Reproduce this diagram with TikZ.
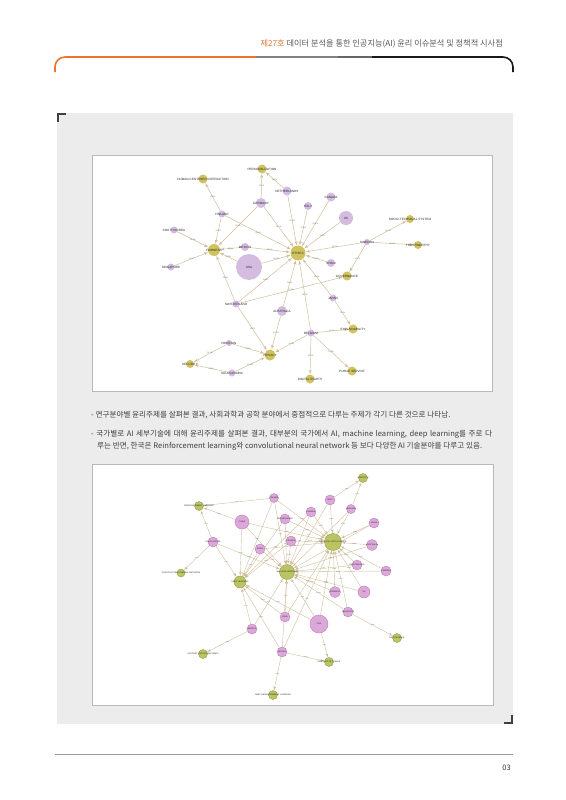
\documentclass[tikz,border=0pt]{standalone}
\usepackage{fontspec}
\setmainfont{Noto Sans CJK KR}
\newfontfamily\labelfont{Liberation Sans}
\usepackage{tikz}
\usetikzlibrary{arrows}
\usetikzlibrary{backgrounds}

\definecolor{pageorange}{RGB}{232,118,48}
\definecolor{panelgray}{RGB}{236,236,236}
\definecolor{framegray}{RGB}{185,185,185}
\definecolor{nodepink}{RGB}{212,188,224}
\definecolor{nodegold}{RGB}{208,194,94}
\definecolor{edgetan}{RGB}{206,186,148}
\definecolor{pinktwo}{RGB}{220,168,218}
\definecolor{pinkrim}{RGB}{186,128,186}
\definecolor{olivetwo}{RGB}{186,196,98}
\definecolor{oliverim}{RGB}{148,158,70}
\definecolor{textgray}{RGB}{62,62,62}

\begin{document}
\begin{tikzpicture}[x=1pt, y=-1pt,
		country/.style={circle, fill=nodepink, inner sep=0pt, minimum size=#1},
		topic/.style={circle, fill=nodegold, inner sep=0pt, minimum size=#1},
		countrytwo/.style={circle, draw=pinkrim, line width=0.4pt, fill=pinktwo, inner sep=0pt, minimum size=#1},
		topictwo/.style={circle, draw=oliverim, line width=0.4pt, fill=olivetwo, inner sep=0pt, minimum size=#1},
		nm/.style={font=\labelfont\fontsize{3.1}{3.1}\selectfont, inner sep=0pt, text=black!85},
		nmtwo/.style={font=\labelfont\fontsize{2.1}{2.1}\selectfont, inner sep=0pt, text=black!85},
		pct/.style={font=\labelfont\fontsize{1.9}{1.9}\selectfont, inner sep=0.3pt, text=black!60},
		pcttwo/.style={font=\labelfont\fontsize{1.5}{1.5}\selectfont, inner sep=0.2pt, text=black!60},
		link/.style={draw=edgetan, line width=0.45pt, -latex'},
		linktwo/.style={draw=edgetan, line width=0.35pt, -latex'}]
	\useasboundingbox (0,0) rectangle (565,800);
	
	% page, panel and frames
	\begin{scope}[on background layer]
		\fill[white] (0,0) rectangle (565,800);
		\fill[panelgray] (57,113) rectangle (513,724);
		\draw[framegray, line width=0.8pt, fill=white] (92,155) rectangle (492,391);
		\draw[framegray, line width=0.8pt, fill=white] (92,464) rectangle (493,705);
	\end{scope}
	\draw[black!75, line width=2pt] (58,122) -- (58,114) -- (66,114);
	\draw[black!75, line width=2pt] (504,723) -- (512,723) -- (512,715);
	
	% header
	\node[anchor=base east, inner sep=0pt, font=\fontsize{8.2}{9}\selectfont] (title) at (503,47)
		{\textcolor{pageorange}{제27호} \textcolor{black!65}{데이터 분석을 통한 인공지능(AI) 윤리 이슈분석 및 정책적 시사점}};
	\draw[pageorange, line width=1.6pt, rounded corners=10pt] (55,72) -- (55,57) -- (256,57);
	\draw[black!50, line width=1.6pt] (256,57) -- (338,57);
	\draw[black!60, line width=1.6pt] (338,57) -- (372,57);
	\draw[black!90, line width=1.6pt, rounded corners=10pt] (372,57) -- (513,57) -- (513,72);
	
	% first network
	\node[topic=9pt, label={[nm]center:PERSONALIZATION}] (pers) at (262,169) {};
	\node[topic=9pt, label={[nm]center:HUMAN-CENTERED INTERACTION}] (human) at (203,179) {};
	\node[country=9pt, label={[nm]center:NETHERLANDS}] (neth) at (287,191) {};
	\node[country=10pt, label={[nm]center:GERMANY}] (germany) at (261,203) {};
	\node[country=9pt, label={[nm]center:CANADA}] (canada) at (331,197) {};
	\node[country=8pt, label={[nm]center:ITALY}] (italy) at (308,206) {};
	\node[country=14pt, label={[nm]center:UK}] (uk) at (346,218) {};
	\node[topic=8pt, label={[nm]center:SOCIO-TECHNICAL SYSTEM}] (socio) at (410,219) {};
	\node[country=7pt, label={[nm]center:FINLAND}] (finland) at (222,214) {};
	\node[country=7pt, label={[nm]center:SOUTH KOREA}] (skorea) at (174,230) {};
	\node[topic=12pt, label={[nm]center:FAIRNESS}] (fairness) at (214,250) {};
	\node[country=8pt, label={[nm]center:MEXICO}] (mexico) at (245,247) {};
	\node[country=6pt, label={[nm]center:SWEDEN}] (sweden) at (367,242) {};
	\node[topic=8pt, label={[nm]center:TRUSTWORTHY}] (trust) at (418,245) {};
	\node[topic=15pt, label={[nm]center:ETHICS}] (ethics) at (298,253) {};
	\node[country=8pt, label={[nm]center:SPAIN}] (spain) at (331,263) {};
	\node[country=7pt, label={[nm]center:SINGAPORE}] (singapore) at (171,267) {};
	\node[country=26pt, label={[nm]center:USA}] (usa) at (249,267) {};
	\node[topic=9pt, label={[nm]center:GOVERNANCE}] (governance) at (347,276) {};
	\node[country=7pt, label={[nm]center:JAPAN}] (japan) at (333,298) {};
	\node[country=7pt, label={[nm]center:SWITZERLAND}] (switz) at (236,304) {};
	\node[country=10pt, label={[nm]center:AUSTRALIA}] (australia) at (282,311) {};
	\node[country=7pt, label={[nm]center:BELGIUM}] (belgium) at (311,333) {};
	\node[topic=9pt, label={[nm]center:EXPLAINABILITY}] (explain) at (353,329) {};
	\node[country=6pt, label={[nm]center:PAKISTAN}] (pakistan) at (229,343) {};
	\node[topic=11pt, label={[nm]center:PRIVACY}] (privacy) at (270,355) {};
	\node[topic=8pt, label={[nm]center:SECURITY}] (security) at (190,364) {};
	\node[country=7pt, label={[nm]center:SAUDI ARABIA}] (saudi) at (232,373) {};
	\node[topic=9pt, label={[nm]center:PUBLIC SERVICE}] (public) at (352,371) {};
	\node[topic=9pt, label={[nm]center:DIGITAL RIGHTS}] (digital) at (310,379) {};
	
	\begin{scope}[on background layer]
		\draw[link] (germany) -- node[pct]{10.0\%} (pers);
		\draw[link] (neth) -- node[pct]{11.1\%} (pers);
		\draw[link] (finland) -- node[pct]{12.5\%} (human);
		\draw[link] (germany) -- node[pct]{11.1\%} (fairness);
		\draw[link] (germany) -- node[pct]{16.7\%} (ethics);
		\draw[link] (neth) -- node[pct]{22.2\%} (ethics);
		\draw[link] (finland) -- node[pct]{12.5\%} (fairness);
		\draw[link] (finland) -- node[pct]{25.0\%} (ethics);
		\draw[link] (skorea) -- node[pct]{14.3\%} (fairness);
		\draw[link] (singapore) -- node[pct]{14.3\%} (fairness);
		\draw[link] (mexico) -- node[pct]{12.5\%} (fairness);
		\draw[link] (mexico) -- node[pct]{25.0\%} (ethics);
		\draw[link] (usa) -- node[pct]{13.6\%} (fairness);
		\draw[link] (usa) -- node[pct]{18.2\%} (ethics);
		\draw[link] (canada) -- node[pct]{20.0\%} (ethics);
		\draw[link] (italy) -- node[pct]{20.0\%} (ethics);
		\draw[link] (uk) -- node[pct]{14.3\%} (ethics);
		\draw[link] (sweden) -- node[pct]{16.7\%} (ethics);
		\draw[link] (sweden) -- node[pct]{16.7\%} (socio);
		\draw[link] (sweden) -- node[pct]{16.7\%} (trust);
		\draw[link] (sweden) -- node[pct]{16.7\%} (governance);
		\draw[link] (spain) -- node[pct]{25.0\%} (ethics);
		\draw[link] (switz) -- node[pct]{12.5\%} (fairness);
		\draw[link] (switz) -- node[pct]{12.5\%} (ethics);
		\draw[link] (switz) -- node[pct]{12.5\%} (governance);
		\draw[link] (switz) -- node[pct]{16.7\%} (privacy);
		\draw[link] (australia) -- node[pct]{20.0\%} (ethics);
		\draw[link] (australia) -- node[pct]{11.1\%} (privacy);
		\draw[link] (japan) -- node[pct]{12.5\%} (ethics);
		\draw[link] (japan) -- node[pct]{12.5\%} (explain);
		\draw[link] (belgium) -- node[pct]{14.3\%} (ethics);
		\draw[link] (belgium) -- node[pct]{14.3\%} (privacy);
		\draw[link] (belgium) -- node[pct]{14.3\%} (explain);
		\draw[link] (belgium) -- node[pct]{14.3\%} (digital);
		\draw[link] (belgium) -- node[pct]{14.3\%} (public);
		\draw[link] (pakistan) -- node[pct]{11.1\%} (privacy);
		\draw[link] (pakistan) -- node[pct]{11.1\%} (security);
		\draw[link] (saudi) -- node[pct]{14.3\%} (privacy);
		\draw[link] (saudi) -- node[pct]{14.3\%} (security);
	\end{scope}
	
	% text between the figures
	\node[anchor=base west, inner sep=0pt, text=textgray, font=\fontsize{7.6}{9}\selectfont] (lineone) at (91,417)
		{- 연구분야별 윤리주제를 살펴본 결과, 사회과학과 공학 분야에서 중점적으로 다루는 주제가 각기 다른 것으로 나타남.};
	\node[anchor=base west, inner sep=0pt, text=textgray, font=\fontsize{7.6}{9}\selectfont] (linetwo) at (91,436)
		{\makebox[401pt][s]{- 국가별로 AI 세부기술에 대해 윤리주제를 살펴본 결과, 대부분의 국가에서 AI, machine learning, deep learning를 주로 다}};
	\node[anchor=base west, inner sep=0pt, text=textgray, font=\fontsize{7.6}{9}\selectfont] (linethree) at (97,448)
		{루는 반면, 한국은 Reinforcement learning와 convolutional neural network 등 보다 다양한 AI 기술분야를 다루고 있음.};
	
	% second network
	\node[topictwo=17pt, label={[nmtwo]center:ARTIFICIAL INTELLIGENCE}] (ai) at (333,542) {};
	\node[topictwo=15pt, label={[nmtwo]center:MACHINE LEARNING}] (ml) at (287,572) {};
	\node[topictwo=12pt, label={[nmtwo]center:DEEP LEARNING}] (dl) at (240,582) {};
	\node[topictwo=9pt, label={[nmtwo]center:REINFORCEMENT LEARNING}] (reinf) at (199,506) {};
	\node[topictwo=8pt, label={[nmtwo]center:CONVOLUTIONAL NEURAL NETWORK}] (cnn) at (181,573) {};
	\node[topictwo=9pt, label={[nmtwo]center:ROBOTICS}] (robotics) at (363,478) {};
	\node[topictwo=9pt, label={[nmtwo]center:SUPPORT VECTOR MACHINES}] (svm) at (203,654) {};
	\node[topictwo=9pt, label={[nmtwo]center:DEEP REINFORCEMENT LEARNING}] (drl) at (273,695) {};
	\node[topictwo=9pt, label={[nmtwo]center:INTERNET OF THINGS}] (iot) at (329,662) {};
	\node[topictwo=9pt, label={[nmtwo]center:DATA SCIENCE}] (datasci) at (397,638) {};
	\node[countrytwo=9pt, label={[nmtwo]center:FINLAND}] (finlandtwo) at (274,498) {};
	\node[countrytwo=14pt, label={[nmtwo]center:CHINA}] (chinatwo) at (242,522) {};
	\node[countrytwo=10pt, label={[nmtwo]center:NETHERLANDS}] (nethtwo) at (285,519) {};
	\node[countrytwo=10pt, label={[nmtwo]center:CANADA}] (canadatwo) at (311,512) {};
	\node[countrytwo=10pt, label={[nmtwo]center:ITALY}] (italytwo) at (330,500) {};
	\node[countrytwo=9pt, label={[nmtwo]center:BELGIUM}] (belgiumtwo) at (351,509) {};
	\node[countrytwo=10pt, label={[nmtwo]center:JAPAN}] (japantwo) at (374,523) {};
	\node[countrytwo=10pt, label={[nmtwo]center:SOUTH KOREA}] (skoreatwo) at (213,542) {};
	\node[countrytwo=10pt, label={[nmtwo]center:SPAIN}] (spaintwo) at (260,549) {};
	\node[countrytwo=10pt, label={[nmtwo]center:FRANCE}] (francetwo) at (291,541) {};
	\node[countrytwo=11pt, label={[nmtwo]center:AUSTRALIA}] (australiatwo) at (372,545) {};
	\node[countrytwo=10pt, label={[nmtwo]center:SWITZERLAND}] (switztwo) at (357,565) {};
	\node[countrytwo=10pt, label={[nmtwo]center:SWEDEN}] (swedentwo) at (386,571) {};
	\node[countrytwo=11pt, label={[nmtwo]center:GERMANY}] (germanytwo) at (335,592) {};
	\node[countrytwo=12pt, label={[nmtwo]center:UK}] (uktwo) at (364,592) {};
	\node[countrytwo=10pt, label={[nmtwo]center:SINGAPORE}] (singaporetwo) at (348,612) {};
	\node[countrytwo=18pt, label={[nmtwo]center:USA}] (usatwo) at (319,624) {};
	\node[countrytwo=10pt, label={[nmtwo]center:INDIA}] (indiatwo) at (285,617) {};
	\node[countrytwo=10pt, label={[nmtwo]center:MEXICO}] (mexicotwo) at (252,629) {};
	\node[countrytwo=10pt, label={[nmtwo]center:RUSSIA}] (russiatwo) at (282,652) {};
	
	\begin{scope}[on background layer]
		\foreach \c/\p in {finlandtwo/10.3, nethtwo/12.0, canadatwo/11.5, italytwo/12.1, belgiumtwo/12.0,
				japantwo/13.6, spaintwo/9.1, francetwo/10.7, australiatwo/12.5, switztwo/11.1, swedentwo/12.0,
				germanytwo/10.0, uktwo/11.4, singaporetwo/10.0, usatwo/10.8, indiatwo/9.5, chinatwo/8.8, russiatwo/7.1}
			\draw[linktwo] (\c) -- node[pcttwo]{\p\%} (ai);
		\foreach \c/\p in {finlandtwo/6.9, nethtwo/8.0, canadatwo/7.7, italytwo/9.1, belgiumtwo/8.0,
				japantwo/9.1, spaintwo/9.1, francetwo/10.7, australiatwo/8.3, switztwo/7.4, swedentwo/8.0,
				germanytwo/10.0, uktwo/8.6, singaporetwo/10.0, usatwo/9.5, indiatwo/9.5, chinatwo/8.8,
				mexicotwo/6.7, russiatwo/7.1, skoreatwo/6.7}
			\draw[linktwo] (\c) -- node[pcttwo]{\p\%} (ml);
		\foreach \c/\p in {chinatwo/5.9, skoreatwo/6.7, finlandtwo/3.4, spaintwo/4.5, nethtwo/4.0, francetwo/3.6,
				canadatwo/3.8, mexicotwo/6.7, russiatwo/3.6, usatwo/4.1, indiatwo/4.8}
			\draw[linktwo] (\c) -- node[pcttwo]{\p\%} (dl);
		\draw[linktwo] (finlandtwo) -- node[pcttwo]{3.4\%} (reinf);
		\draw[linktwo] (chinatwo) -- node[pcttwo]{4.5\%} (reinf);
		\draw[linktwo] (skoreatwo) -- node[pcttwo]{6.7\%} (reinf);
		\draw[linktwo] (skoreatwo) -- node[pcttwo]{6.7\%} (cnn);
		\draw[linktwo] (italytwo) -- node[pcttwo]{3.0\%} (robotics);
		\draw[linktwo] (belgiumtwo) -- node[pcttwo]{4.0\%} (robotics);
		\draw[linktwo] (mexicotwo) -- node[pcttwo]{3.3\%} (svm);
		\draw[linktwo] (russiatwo) -- node[pcttwo]{3.6\%} (drl);
		\draw[linktwo] (usatwo) -- node[pcttwo]{2.7\%} (iot);
		\draw[linktwo] (russiatwo) -- node[pcttwo]{3.6\%} (iot);
		\draw[linktwo] (singaporetwo) -- node[pcttwo]{3.3\%} (datasci);
	\end{scope}
	
	% footer
	\draw[black!40, line width=1pt] (55,754) -- (513,754);
	\node[anchor=base east, inner sep=0pt, text=black!80, font=\fontsize{7.5}{8}\selectfont] (pageno) at (511,770) {03};
\end{tikzpicture}
\end{document}
